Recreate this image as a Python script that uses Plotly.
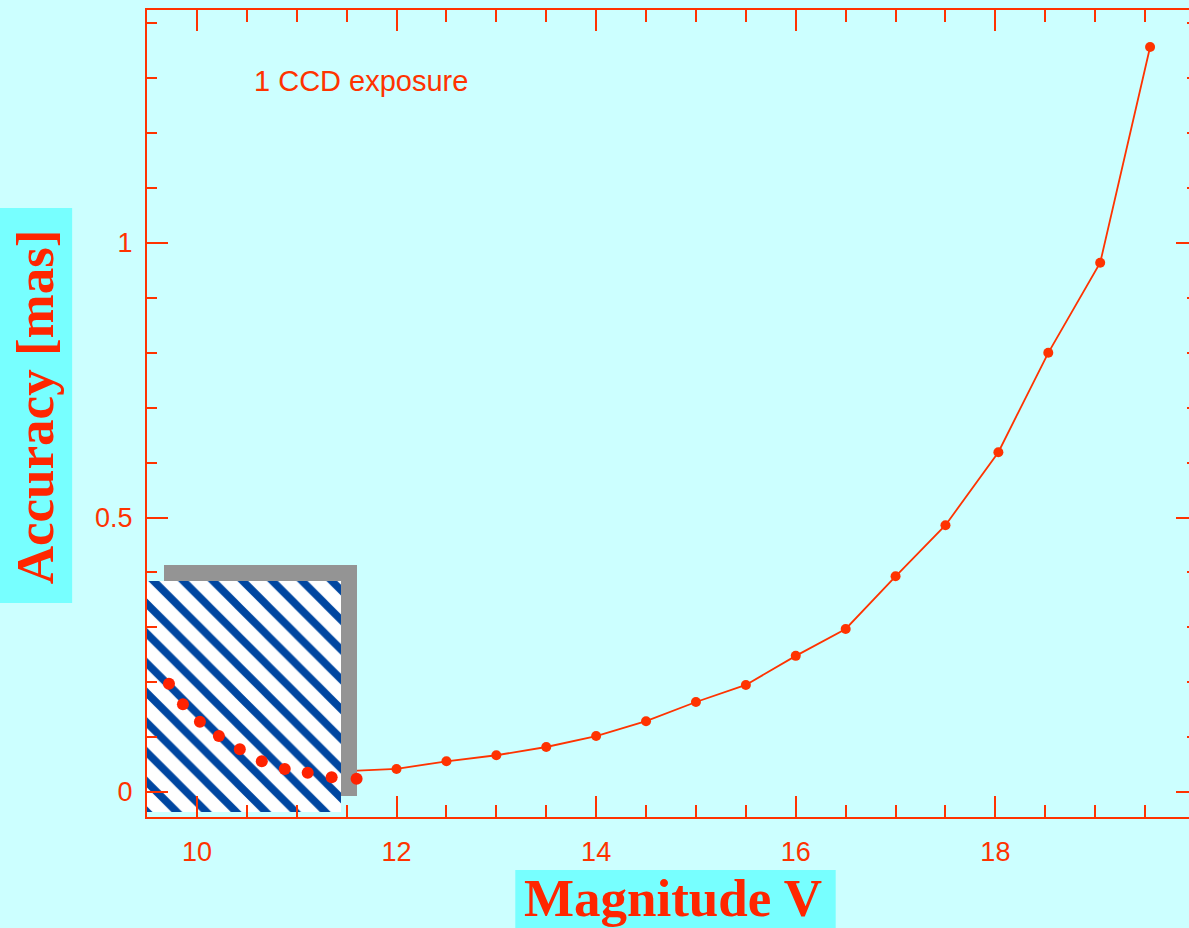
import plotly.graph_objects as go

# ---------------- data ----------------
mag_v = [11.5, 12.0, 12.5, 13.0, 13.5, 14.0, 14.5, 15.0, 15.5, 16.0, 16.5, 17.0, 17.5, 18.03, 18.53, 19.05, 19.55]
accuracy_mas = [0.038, 0.042, 0.056, 0.067, 0.082, 0.102, 0.129, 0.164, 0.195, 0.248, 0.297, 0.393, 0.486, 0.619, 0.800, 0.964, 1.357]

bright_mag = [9.72, 9.86, 10.03, 10.22, 10.43, 10.65, 10.88, 11.11, 11.35, 11.60]
bright_acc = [0.197, 0.160, 0.128, 0.102, 0.078, 0.056, 0.042, 0.035, 0.027, 0.024]

# hatched "saturation" box and its shadow (magnitude span / accuracy span)
box_mag = [9.5, 11.44]
box_acc = [-0.036, 0.384]
shadow_mag = [9.67, 11.60]
shadow_acc = [-0.007, 0.413]

x_range = [9.5, 20.02]
y_range = [-0.0455, 1.4244]

RED = "#ff3300"
TITLE_RED = "#ff2600"
BG = "#ccffff"
LABEL_BG = "#77ffff"
BLUE = "#0046a0"
GRAY = "#949494"

# figure is a bit wider than the window so that the right frame falls just off-screen
FIG_W, FIG_H = 1200, 928
L, R, T, B = 147, 1199, 10, 817
W, H = R - L, B - T


def px2x(p):
    return (p - L) / W


def py2y(p):
    return (B - p) / H


fig = go.Figure()

# main curve
fig.add_trace(go.Scatter(
    x=mag_v, y=accuracy_mas, mode="lines+markers",
    line=dict(color=RED, width=1.8),
    marker=dict(color=RED, size=10, symbol="circle"),
    xaxis="x", yaxis="y", showlegend=False, hoverinfo="skip"))

# shadow + hatched box (overlay subplot drawn above the curve)
fig.add_trace(go.Bar(
    x=[(shadow_mag[0] + shadow_mag[1]) / 2], width=[shadow_mag[1] - shadow_mag[0]],
    base=[shadow_acc[0]], y=[shadow_acc[1] - shadow_acc[0]],
    marker=dict(color=GRAY, line=dict(width=0)),
    xaxis="x2", yaxis="y2", showlegend=False, hoverinfo="skip"))
fig.add_trace(go.Bar(
    x=[(box_mag[0] + box_mag[1]) / 2], width=[box_mag[1] - box_mag[0]],
    base=[box_acc[0]], y=[box_acc[1] - box_acc[0]],
    marker=dict(color="white", line=dict(width=0),
                pattern=dict(shape="\\", fgcolor=BLUE, bgcolor="white", fgopacity=1,
                             size=21, solidity=0.36)),
    xaxis="x2", yaxis="y2", showlegend=False, hoverinfo="skip"))

# bright-star points
fig.add_trace(go.Scatter(
    x=bright_mag, y=bright_acc, mode="markers",
    marker=dict(color="#ff2200", size=12, symbol="circle"),
    xaxis="x2", yaxis="y2", showlegend=False, hoverinfo="skip"))

tickfont = dict(family="Liberation Sans, Arial, sans-serif", size=27, color=RED)

fig.update_layout(
    width=FIG_W, height=FIG_H,
    margin=dict(l=L, r=FIG_W - R, t=T, b=FIG_H - B, pad=0),
    paper_bgcolor=BG, plot_bgcolor=BG,
    barmode="overlay", bargap=0,
    xaxis=dict(range=x_range, tickmode="linear", tick0=10, dtick=2,
               ticks="inside", ticklen=21, tickwidth=2, tickcolor=RED,
               showline=True, linecolor=RED, linewidth=2, mirror="allticks",
               showgrid=False, zeroline=False, tickfont=tickfont,
               ticklabelstandoff=10,
               minor=dict(tickmode="linear", tick0=10, dtick=0.5, ticks="inside",
                          ticklen=12, tickwidth=2, tickcolor=RED, showgrid=False)),
    yaxis=dict(range=y_range, tickmode="linear", tick0=0, dtick=0.5,
               ticks="inside", ticklen=21, tickwidth=2, tickcolor=RED,
               showline=True, linecolor=RED, linewidth=2, mirror="allticks",
               showgrid=False, zeroline=False, tickfont=tickfont,
               ticklabelstandoff=7,
               minor=dict(tickmode="linear", tick0=0, dtick=0.1, ticks="inside",
                          ticklen=10, tickwidth=2, tickcolor=RED, showgrid=False)),
    xaxis2=dict(range=x_range, overlaying="x", anchor="y2", visible=False),
    yaxis2=dict(range=y_range, overlaying="y", anchor="x2", visible=False),
    shapes=[
        dict(type="rect", xref="paper", yref="paper", layer="below",
             x0=px2x(516), x1=px2x(837), y0=py2y(935), y1=py2y(870),
             fillcolor=LABEL_BG, line=dict(width=0)),
        dict(type="rect", xref="paper", yref="paper", layer="below",
             x0=px2x(-5), x1=px2x(72), y0=py2y(603), y1=py2y(208),
             fillcolor=LABEL_BG, line=dict(width=0)),
    ],
    annotations=[
        dict(text="1 CCD exposure", xref="paper", yref="paper",
             x=px2x(252), y=py2y(81), xanchor="left", yanchor="middle",
             showarrow=False,
             font=dict(family="Liberation Sans, Arial, sans-serif", size=29, color=RED)),
        dict(text="<b>Magnitude V</b>", xref="paper", yref="paper",
             x=px2x(674), y=py2y(898), xanchor="center", yanchor="middle",
             showarrow=False,
             font=dict(family="Liberation Serif, Times New Roman, serif", size=53, color=TITLE_RED)),
        dict(text="<b>Accuracy [mas]</b>", xref="paper", yref="paper",
             x=px2x(35), y=py2y(407), xanchor="center", yanchor="middle",
             textangle=-90, showarrow=False,
             font=dict(family="Liberation Serif, Times New Roman, serif", size=53, color=TITLE_RED)),
    ],
)

fig.write_html(
    "out.html",
    config={"displayModeBar": False},
    post_script=("document.documentElement.style.margin='0';"
                 "document.body.style.margin='0';document.body.style.padding='0';"
                 "document.documentElement.style.overflow='hidden';"
                 "document.body.style.overflow='hidden';"
                 "document.body.style.background='" + BG + "';"),
)
